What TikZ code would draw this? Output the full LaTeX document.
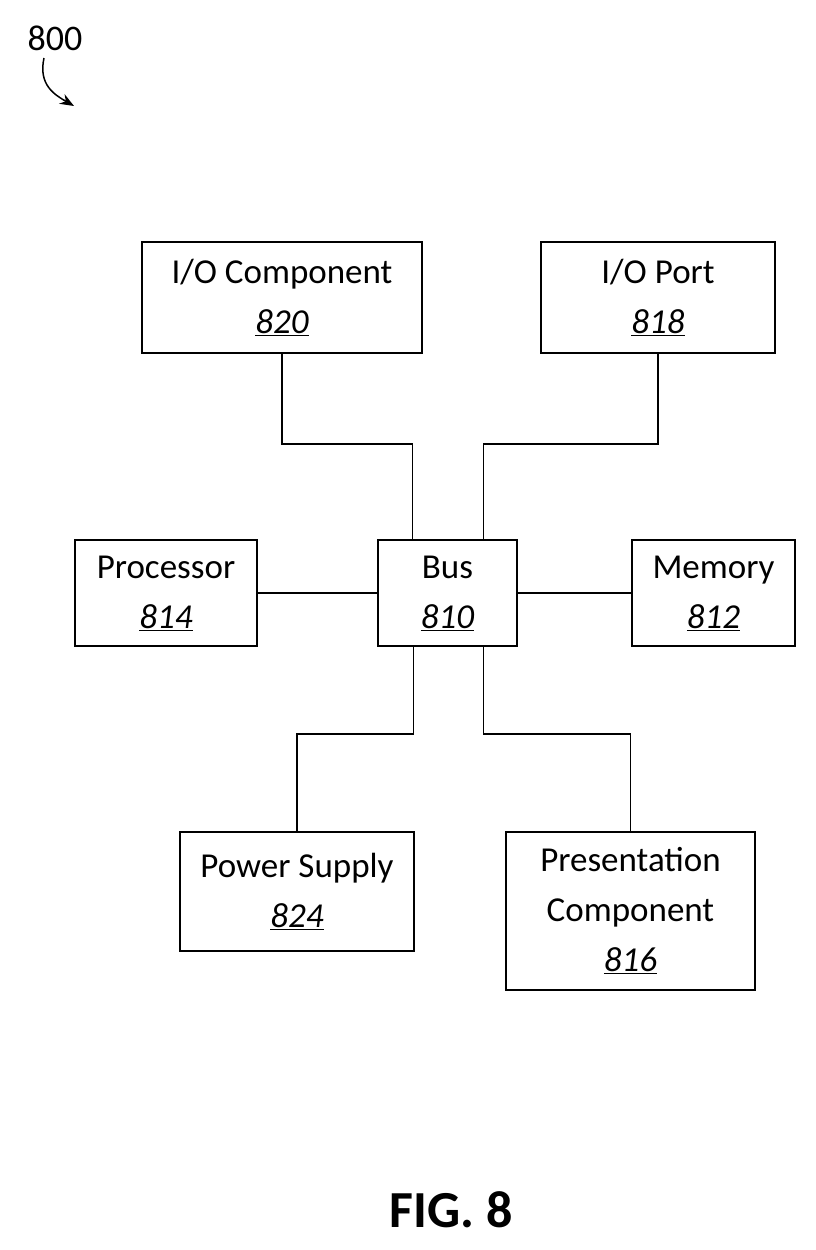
\documentclass[tikz,border=0pt]{standalone}
\usepackage{fontspec}
\setmainfont{Carlito}
\usetikzlibrary{positioning, arrows.meta}

\tikzset{
	box/.style={draw, line width=1.5pt, align=center, inner sep=2pt,
		font=\fontsize{35}{50}\selectfont},
	wire/.style={line width=1.5pt}
}
\newcommand{\refnum}[1]{\underline{\textit{#1}}}

\begin{document}
\begin{tikzpicture}[x=1pt, y=-1pt]
	\useasboundingbox (0,0) rectangle (816,1250);

	\node [box, minimum width=280, minimum height=111] (iocomp) at (282, 297.5) {I/O Component\\\refnum{820}};
	\node [box, minimum width=234, minimum height=111] (ioport) at (658, 297.5) {I/O Port\\\refnum{818}};
	\node [box, minimum width=182, minimum height=106] (proc) at (166, 593) {Processor\\\refnum{814}};
	\node [box, minimum width=139, minimum height=106] (bus) at (447.5, 593) {Bus\\\refnum{810}};
	\node [box, minimum width=163, minimum height=106] (mem) at (713.5, 593) {Memory\\\refnum{812}};
	\node [box, minimum width=234, minimum height=119] (power) at (297, 891.5) {Power Supply\\\refnum{824}};
	\node [box, minimum width=249, minimum height=158] (pres) at (630.5, 911) {Presentation\\Component\\\refnum{816}};

	\draw [wire] (iocomp.south) -- ++(0,90) -| ([xshift=-35]bus.north);
	\draw [wire] (ioport.south) -- ++(0,90) -| ([xshift=36]bus.north);
	\draw [wire] (proc) -- (bus);
	\draw [wire] (bus) -- (mem);
	\draw [wire] ([xshift=-34]bus.south) -- ++(0,87) -| (power.north);
	\draw [wire] ([xshift=36]bus.south) -- ++(0,87) -| (pres.north);

	\node [font=\fontsize{36}{40}\selectfont] (fignum) at (55, 38) {800};
	\coordinate (fignumtip) at (74, 106);
	\draw [wire, -{Stealth[length=14pt, width=11pt]}] (44, 58) .. controls (38, 85) and (55, 95) .. (fignumtip);

	\node [font=\fontsize{52}{56}\selectfont\bfseries] (caption) at (451, 1210) {FIG. 8};
\end{tikzpicture}
\end{document}
